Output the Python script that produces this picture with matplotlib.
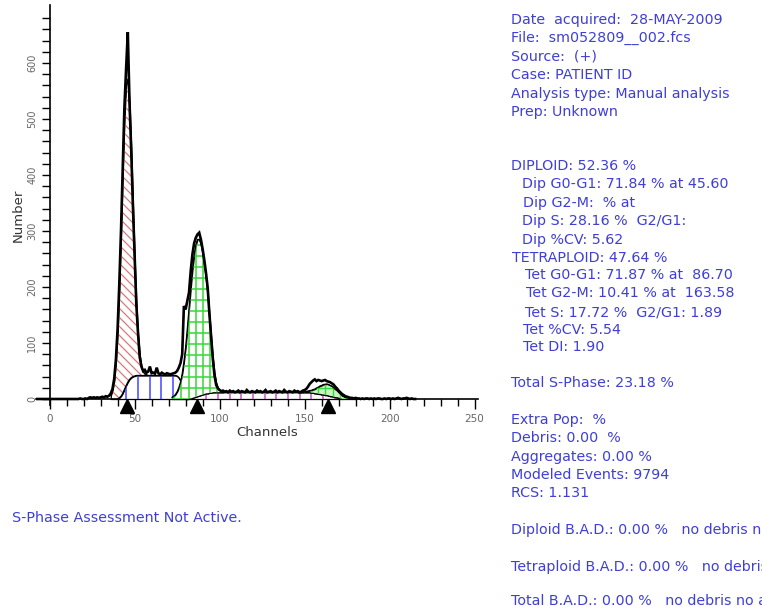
import numpy as np
import matplotlib
matplotlib.use("Agg")
import matplotlib.pyplot as plt
from matplotlib.collections import LineCollection

# ---------------- DNA histogram (events per channel) ----------------
hist_start = -8
hist_counts = [
    0, 0, 0, 0, 0, 0, 0, 0,                      # -8 .. -1
    0, 0, 0, 0, 0, 0, 0, 0, 0, 0,                # 0 .. 9
    0, 0, 0, 0, 0, 0, 0, 0, 1, 0,                # 10 .. 19
    0, 1, 0, 2, 3, 2, 3, 2, 3, 2,                # 20 .. 29
    3, 4, 3, 5, 4, 6, 10, 18, 36, 70,            # 30 .. 39
    125, 205, 300, 410, 520, 590, 655, 530, 445, 345,  # 40 .. 49
    255, 170, 118, 75, 58, 50, 52, 47, 49, 58,   # 50 .. 59
    46, 47, 45, 56, 46, 44, 47, 45, 44, 46,      # 60 .. 69
    45, 44, 45, 46, 47, 50, 56, 64, 80, 166,     # 70 .. 79
    160, 175, 190, 228, 258, 278, 288, 294, 297, 285,  # 80 .. 89
    268, 248, 225, 198, 152, 112, 72, 42, 25, 19,      # 90 .. 99
    16, 14, 15, 13, 14, 12, 15, 13, 14, 12,      # 100 .. 109
    13, 15, 12, 14, 13, 12, 16, 13, 12, 14,      # 110 .. 119
    13, 12, 15, 13, 14, 12, 13, 16, 12, 13,      # 120 .. 129
    14, 12, 13, 15, 12, 14, 13, 12, 16, 13,      # 130 .. 139
    12, 14, 13, 12, 15, 13, 14, 12, 13, 15,      # 140 .. 149
    16, 18, 22, 27, 30, 33, 35, 32, 34, 33,      # 150 .. 159
    32, 33, 34, 32, 31, 30, 28, 26, 22, 19,      # 160 .. 169
    15, 12, 9, 7, 5, 4, 3, 2, 2, 1,              # 170 .. 179
    2, 1, 1, 0, 1, 0, 1, 1, 0, 1,                # 180 .. 189
    0, 1, 0, 1, 1, 0, 0, 1, 0, 1,                # 190 .. 199
    1, 0, 1, 0, 1, 2, 1, 0, 1, 1,                # 200 .. 209
    2, 1, 0, 1, 0, 0,                            # 210 .. 215
]

# ---------------- fitted model components ----------------
# diploid S phase
dip_s_start = 40
dip_s = [0, 2, 5, 10, 17, 24, 30, 35, 38, 40, 41] + [42] * 24 + [41, 38, 33, 26, 18, 11, 5, 0]
# diploid G0-G1 peak (stacked on diploid S)
dip_g1_start = 36
dip_g1 = [6, 15, 32, 65, 118, 194, 289, 392, 481, 536, 541, 495, 411, 310, 212,
          131, 74, 38, 17, 7, 3, 1, 0]
# tetraploid S phase
tet_s_start = 80
tet_s = ([0, 0, 1, 1, 2, 3, 4, 5, 6, 7, 8, 9, 10, 10, 11, 11, 12] + [12] * 56 +
         [12, 11, 11, 10, 10, 9, 9, 8, 8, 7, 7, 6, 5, 5, 4, 3, 3, 2, 1, 0])
# tetraploid G0-G1 peak (stacked on tetraploid S)
tet_g1_start = 72
tet_g1 = [3, 5, 8, 13, 20, 30, 45, 66, 92, 125, 160, 196, 228, 254, 271, 280,
          279, 270, 254, 233, 208, 180, 140, 100, 62, 34, 17, 8, 4, 2, 0]
# tetraploid G2-M peak (stacked on tetraploid S)
tet_g2_start = 146
tet_g2 = [0.1, 0.2, 0.4, 0.6, 0.9, 1.5, 2.2, 3.1, 4.4, 5.9, 7.7, 9.7, 12, 14.1,
          16.2, 17.9, 19.2, 19.9, 20, 19.4, 18.2, 16.5, 14.5, 12.4, 10.1, 8.1,
          6.2, 4.6, 3.3, 2.3, 1.6, 1.0, 0.6, 0.3, 0]

# peak positions (channel) of the fitted G0-G1 / G2-M populations
peak_channels = [45.60, 86.70, 163.58]

# axis ticks
x_major = [0, 50, 100, 150, 200, 250]
y_major = [0, 100, 200, 300, 400, 500, 600]

# ---------------- report text ----------------
header_lines = [
    "Date  acquired:  28-MAY-2009",
    "File:  sm052809__002.fcs",
    "Source:  (+)",
    "Case: PATIENT ID",
    "Analysis type: Manual analysis",
    "Prep: Unknown",
]
ploidy_lines = [
    "DIPLOID: 52.36 %",
    "Dip G0-G1: 71.84 % at 45.60",
    "Dip G2-M:  % at",
    "Dip S: 28.16 %  G2/G1:",
    "Dip %CV: 5.62",
    "TETRAPLOID: 47.64 %",
    "Tet G0-G1: 71.87 % at  86.70",
    "Tet G2-M: 10.41 % at  163.58",
    "Tet S: 17.72 %  G2/G1: 1.89",
    "Tet %CV: 5.54",
    "Tet DI: 1.90",
]
summary_line = "Total S-Phase: 23.18 %"
stats_lines = [
    "Extra Pop:  %",
    "Debris: 0.00  %",
    "Aggregates: 0.00 %",
    "Modeled Events: 9794",
    "RCS: 1.131",
]
bad_lines = [
    "Diploid B.A.D.: 0.00 %   no debris no aggregates",
    "Tetraploid B.A.D.: 0.00 %   no debris no aggregates",
    "Total B.A.D.: 0.00 %   no debris no aggregates",
]
assessment_line = "S-Phase Assessment Not Active."

# ---------------- figure ----------------
W, H = 762, 611
fig = plt.figure(figsize=(W / 100, H / 100), dpi=100)
fig.patch.set_facecolor("white")
ax = fig.add_axes([36 / W, 198 / H, 442 / W, 406 / H])
ax.set_xlim(-8, 252)
ax.set_ylim(-25, 700)
ax.patch.set_alpha(0)

for side in ("top", "right"):
    ax.spines[side].set_visible(False)
ax.spines["left"].set_position(("data", 0))
ax.spines["bottom"].set_position(("data", 0))
ax.spines["left"].set_bounds(-10, 703)
ax.spines["left"].set_linewidth(1.2)
ax.spines["bottom"].set_linewidth(1.2)

ax.set_xticks(x_major)
ax.set_xticks([v for v in range(0, 251, 10) if v % 50], minor=True)
ax.set_yticks(y_major)
ax.set_yticks([v for v in range(20, 700, 20) if v % 100], minor=True)
ax.tick_params(axis="x", which="major", direction="out", length=7, width=1,
               labelsize=7.5, labelcolor="#666666", pad=4)
ax.tick_params(axis="x", which="minor", direction="out", length=5, width=1)
ax.tick_params(axis="y", which="both", direction="out", length=6, width=1,
               labelsize=7, labelcolor="#666666", pad=3, labelrotation=90)
for lab in ax.get_yticklabels():
    lab.set_va("center")

# pixel <-> data helpers for the hatch patterns
T = ax.transData
Tinv = T.inverted()
bx0, by0, bx1, by1 = ax.bbox.extents


def to_data(segs_px):
    return [Tinv.transform(np.array(s)) for s in segs_px]


def vlines_px(spacing, phase_x):
    x_anchor = T.transform((phase_x, 0))[0]
    xs = np.arange(x_anchor - spacing * 200, bx1 + spacing, spacing)
    xs = xs[xs > bx0 - spacing]
    return [[(x, by0), (x, by1)] for x in xs]


def hlines_px(spacing, phase_y):
    y_anchor = T.transform((0, phase_y))[1]
    ys = np.arange(y_anchor - spacing * 200, by1 + spacing, spacing)
    ys = ys[ys > by0 - spacing]
    return [[(bx0, y), (bx1, y)] for y in ys]


def back_diag_px(spacing):
    cs = np.arange(by0 + bx0 - 10, by1 + bx1 + 10, spacing)
    return [[(bx0, c - bx0), (bx1, c - bx1)] for c in cs]


def component(start, values, base, face, segs, color, lw, z):
    xs = np.arange(start, start + len(values))
    top = np.asarray(values, dtype=float) + base
    poly = ax.fill_between(xs, base, top, facecolor=face, edgecolor="black",
                           linewidth=0.9, zorder=z)
    lc = LineCollection(to_data(segs), colors=color, linewidths=lw, zorder=z + 0.01)
    lc.set_clip_path(poly.get_paths()[0], ax.transData)
    ax.add_collection(lc)
    ax.plot(xs, top, color="black", lw=0.9, zorder=z + 0.02)
    return poly


def base_of(start, length, under_start, under):
    base = np.zeros(length)
    for i in range(length):
        j = start + i - under_start
        if 0 <= j < len(under):
            base[i] = under[j]
    return base


red = "#d97a7a"
blue = "#4646ff"
green = "#36d936"
magenta = "#c453c4"

# diploid S (blue verticals)
component(dip_s_start, dip_s, np.zeros(len(dip_s)), "white",
          vlines_px(11.7, 52), blue, 1.1, 3)
# diploid G0-G1 (red back-diagonals) on top of diploid S
component(dip_g1_start, dip_g1, base_of(dip_g1_start, len(dip_g1), dip_s_start, dip_s),
          "white", back_diag_px(9), red, 0.9, 2)
# tetraploid S (magenta verticals)
component(tet_s_start, tet_s, np.zeros(len(tet_s)), "white",
          vlines_px(11.7, 99), magenta, 1.1, 3)
# tetraploid G0-G1 (green grid) on top of tetraploid S
component(tet_g1_start, tet_g1, base_of(tet_g1_start, len(tet_g1), tet_s_start, tet_s),
          "white", vlines_px(7.2, 86) + hlines_px(11, 0), green, 1.1, 4)
# tetraploid G2-M (green grid) on top of tetraploid S
component(tet_g2_start, tet_g2, base_of(tet_g2_start, len(tet_g2), tet_s_start, tet_s),
          "#c9f5c0", vlines_px(7.2, 86) + hlines_px(11, 0), green, 1.0, 4)

# measured histogram
hist_x = np.arange(hist_start, hist_start + len(hist_counts))
ax.plot(hist_x, hist_counts, color="black", lw=1.9, zorder=6, solid_joinstyle="miter")

# peak markers under the axis
ax.plot(peak_channels, [-12] * len(peak_channels), ls="none", marker="^",
        ms=10, color="black", clip_on=False, zorder=7)

# axis titles
fig.text(18 / W, 1 - 215 / H, "Number", rotation=90, ha="center", va="center",
         fontsize=9.5, color="#333333")
fig.text(267 / W, 1 - 432 / H, "Channels", ha="center", va="center",
         fontsize=9.5, color="#333333")

# ---------------- report panel ----------------
txt = dict(color="#3f3fd6", fontsize=10.3, va="center", ha="left",
           family="DejaVu Sans")

header_y = [20, 38, 57, 75, 94, 112]
for s, y in zip(header_lines, header_y):
    fig.text(511 / W, 1 - y / H, s, **txt)

ploidy_x = [511, 522, 523, 522, 522, 512, 525, 526, 525, 523, 523]
ploidy_y = [166, 184, 203, 221, 240, 258, 275, 293, 312, 330, 347]
for s, x, y in zip(ploidy_lines, ploidy_x, ploidy_y):
    fig.text(x / W, 1 - y / H, s, **txt)

fig.text(511 / W, 1 - 383 / H, summary_line, **txt)

stats_y = [420, 438, 457, 475, 493]
for s, y in zip(stats_lines, stats_y):
    fig.text(511 / W, 1 - y / H, s, **txt)

bad_y = [530, 567, 601]
for s, y in zip(bad_lines, bad_y):
    fig.text(511 / W, 1 - y / H, s, **txt)

fig.text(12 / W, 1 - 518 / H, assessment_line, **txt)

fig.savefig("out.png", dpi=100, facecolor="white")
